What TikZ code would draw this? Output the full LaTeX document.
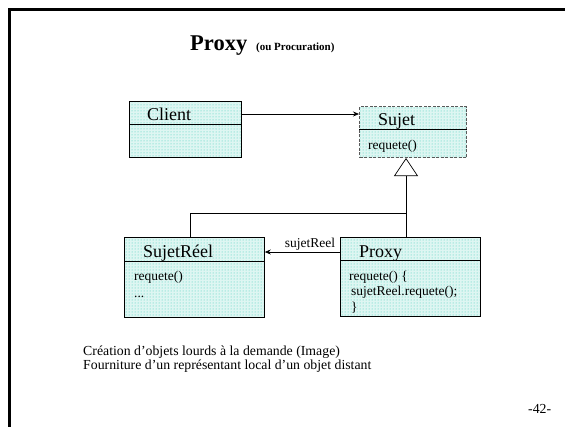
\documentclass[tikz,border=0pt]{standalone}
\usepackage{fontspec}
\setmainfont{Liberation Serif}
\usetikzlibrary{arrows.meta,patterns}
\definecolor{boxfill}{RGB}{222,246,242}
\definecolor{boxdots}{RGB}{60,205,185}
\tikzset{
  x=1pt, y=-1pt,
  classbox/.style={draw=black, line width=0.8pt, anchor=north west, inner sep=0pt,
    preaction={fill=boxfill}, pattern=dots, pattern color=boxdots},
  ifacebox/.style={classbox, draw=black!65, line width=1pt, dash pattern=on 3pt off 1.5pt},
  bigname/.style={anchor=base west, inner sep=0pt, font=\fontsize{18}{20}\selectfont},
  member/.style={anchor=base west, inner sep=0pt, font=\fontsize{13.5}{15}\selectfont},
  plain/.style={anchor=base west, inner sep=0pt, font=\fontsize{13.8}{16}\selectfont},
  assoc/.style={line width=0.7pt, -{Stealth[length=6pt,width=5pt,inset=2pt]}},
  inherit/.style={line width=0.7pt, -{Triangle[open,length=18pt,width=24pt,line width=0.7pt]}},
}
\begin{document}
\begin{tikzpicture}
\useasboundingbox (0,0) rectangle (565,426);
% slide frame
\draw[line width=3pt] (9,432) -- (9,9) -- (572,9);

% title
\node[anchor=base west, inner sep=0pt, font=\fontsize{22.5}{24}\selectfont\bfseries] (title) at (190,50) {Proxy};
\node[anchor=base west, inner sep=0pt, font=\fontsize{11}{13}\selectfont\bfseries] (subtitle) at (256,50) {(ou Procuration)};

% classes
\node[classbox, minimum width=112pt, minimum height=56pt] (client) at (129,101) {};
\draw[line width=0.8pt] (client.north west |- 0,124) -- (client.north east |- 0,124);
\node[bigname] (clientname) at (147,120) {Client};

\node[ifacebox, minimum width=107pt, minimum height=51pt] (sujet) at (359,106) {};
\draw[line width=0.8pt] (sujet.north west |- 0,129) -- (sujet.north east |- 0,129);
\node[bigname] (sujetname) at (378,125) {Sujet};
\node[member] (sujetop) at (368,149) {requete()};

\node[classbox, minimum width=140pt, minimum height=80pt] (sujetreel) at (124,237) {};
\draw[line width=0.8pt] (sujetreel.north west |- 0,261) -- (sujetreel.north east |- 0,261);
\node[bigname] (reelname) at (143,257) {SujetRéel};
\node[member] (reelop) at (134,280) {requete()};
\node[member] (reeldots) at (134,297) {...};

\node[classbox, minimum width=140pt, minimum height=79pt] (proxy) at (340,237) {};
\draw[line width=0.8pt] (proxy.north west |- 0,260) -- (proxy.north east |- 0,260);
\node[bigname] (proxyname) at (359,257) {Proxy};
\node[member] (proxyop1) at (349,280) {requete() \{};
\node[member] (proxyop2) at (351,295) {sujetReel.requete();};
\node[member] (proxyop3) at (351,311) {\}};

% connectors
\coordinate (ca) at (0,114);
\draw[assoc] (client.east |- ca) -- (sujet.west |- ca);

\coordinate (jr) at (190,213);
\coordinate (jp) at (406,213);
\draw[line width=0.7pt] (jr |- sujetreel.north) -- (jr) -- (jp);
\draw[inherit] (jp |- proxy.north) -- (jp |- sujet.south);

\coordinate (ra) at (0,252);
\draw[assoc] (proxy.west |- ra) -- node[pos=0.4, above=1pt, inner sep=0pt, font=\fontsize{13.5}{15}\selectfont] (reflabel) {sujetReel} (sujetreel.east |- ra);

% notes
\node[plain] (note1) at (83,355) {Création d’objets lourds à la demande (Image)};
\node[plain] (note2) at (83,369) {Fourniture d’un représentant local d’un objet distant};
\node[plain] (page) at (528,413) {-42-};
\end{tikzpicture}
\end{document}
